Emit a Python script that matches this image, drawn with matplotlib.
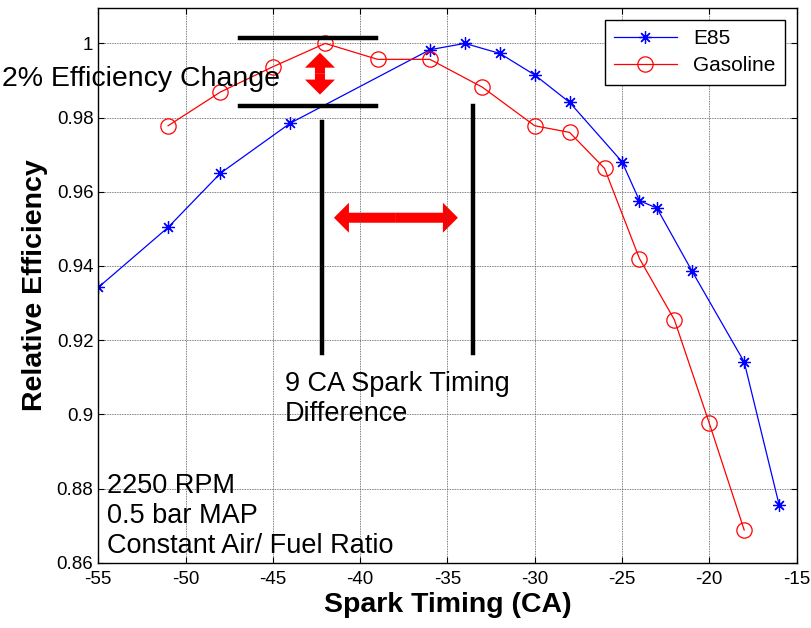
"""
Relative efficiency vs spark timing, E85 vs gasoline
"""

import matplotlib
matplotlib.use("Agg")
import matplotlib.pyplot as plt
from matplotlib.patches import FancyArrowPatch

plt.rcParams["font.family"] = ["Liberation Sans", "DejaVu Sans"]
plt.rcParams["axes.unicode_minus"] = False

e85_timing = [-55, -51, -48, -44, -36, -34, -32, -30, -28, -25, -24, -23, -21, -18, -16]
e85_eff = [0.9342, 0.9504, 0.965, 0.9785, 0.9983, 1.0, 0.9973, 0.9915, 0.9841,
           0.9681, 0.9576, 0.9556, 0.9387, 0.9141, 0.8756]

gas_timing = [-51, -48, -45, -42, -39, -36, -33, -30, -28, -26, -24, -22, -20, -18]
gas_eff = [0.9778, 0.9869, 0.9937, 1.0, 0.9957, 0.9957, 0.9882, 0.9778, 0.976,
           0.9663, 0.942, 0.9255, 0.8976, 0.8688]

x_ticks = [-55, -50, -45, -40, -35, -30, -25, -20, -15]
y_ticks = [0.86, 0.88, 0.9, 0.92, 0.94, 0.96, 0.98, 1.0]
y_tick_labels = ["0.86", "0.88", "0.9", "0.92", "0.94", "0.96", "0.98", "1"]


def double_arrow(ax, center, ends):
    # fat red double arrow drawn as two simple arrows from the middle
    style = "simple,head_length=10.8,head_width=21.6,tail_width=7.2"
    for end in ends:
        ax.add_patch(FancyArrowPatch(center, end, arrowstyle=style,
                                     mutation_scale=1, color="red", lw=0,
                                     shrinkA=0, shrinkB=0))


fig = plt.figure(figsize=(8.12, 6.28), dpi=100)
ax = fig.add_axes([0.121, 0.104, 0.860, 0.883])

ax.plot(e85_timing, e85_eff, color="blue", lw=0.9, marker=(8, 2, 0),
        markersize=9, markeredgewidth=0.9, label="E85")
ax.plot(gas_timing, gas_eff, color="red", lw=0.9, marker="o", markersize=11,
        markerfacecolor="none", markeredgewidth=0.9, label="Gasoline")

ax.set_xlim(-55, -15)
ax.set_ylim(0.86, 1.0095)
ax.set_xticks(x_ticks)
ax.set_yticks(y_ticks)
ax.set_yticklabels(y_tick_labels)
ax.tick_params(direction="in", length=4, labelsize=13.5, top=True, right=True,
               width=0.8)
ax.tick_params(axis="x", pad=6)
ax.grid(True, color="#555555", linestyle=(0, (1, 1)), linewidth=0.6)
for spine in ax.spines.values():
    spine.set_linewidth(1.0)

ax.set_xlabel("Spark Timing (CA)", fontsize=20.5, fontweight="bold", labelpad=3)
ax.set_ylabel("Relative Efficiency", fontsize=20.5, fontweight="bold", labelpad=6)

leg = ax.legend(loc="upper right", fontsize=15, fancybox=False, framealpha=1,
                edgecolor="black", borderaxespad=0.55, handlelength=3.0,
                borderpad=0.45, labelspacing=0.4)
leg.get_frame().set_linewidth(1.0)

# annotation lines
ax.plot([-46.9, -39.1], [1.0015, 1.0015], color="black", lw=3.2)
ax.plot([-46.9, -39.1], [0.983, 0.983], color="black", lw=3.2)
ax.plot([-42.2, -42.2], [0.9788, 0.9166], color="black", lw=3.2)
ax.plot([-33.55, -33.55], [0.983, 0.9166], color="black", lw=3.2)

# red double arrows
double_arrow(ax, (-42.3, 0.9918), [(-42.3, 0.9975), (-42.3, 0.9862)])
double_arrow(ax, (-37.95, 0.953), [(-34.4, 0.953), (-41.5, 0.953)])

ax.text(-60.5, 0.9905, "2% Efficiency Change", fontsize=20.5, va="center",
        ha="left", clip_on=False)
ax.text(-44.3, 0.9117, "9 CA Spark Timing\nDifference", fontsize=19.5,
        va="top", ha="left", linespacing=1.2)
ax.text(-54.5, 0.8611, "2250 RPM\n0.5 bar MAP\nConstant Air/ Fuel Ratio",
        fontsize=19.5, va="bottom", ha="left", linespacing=1.2)

fig.savefig("out.png", dpi=100)
plt.close(fig)
